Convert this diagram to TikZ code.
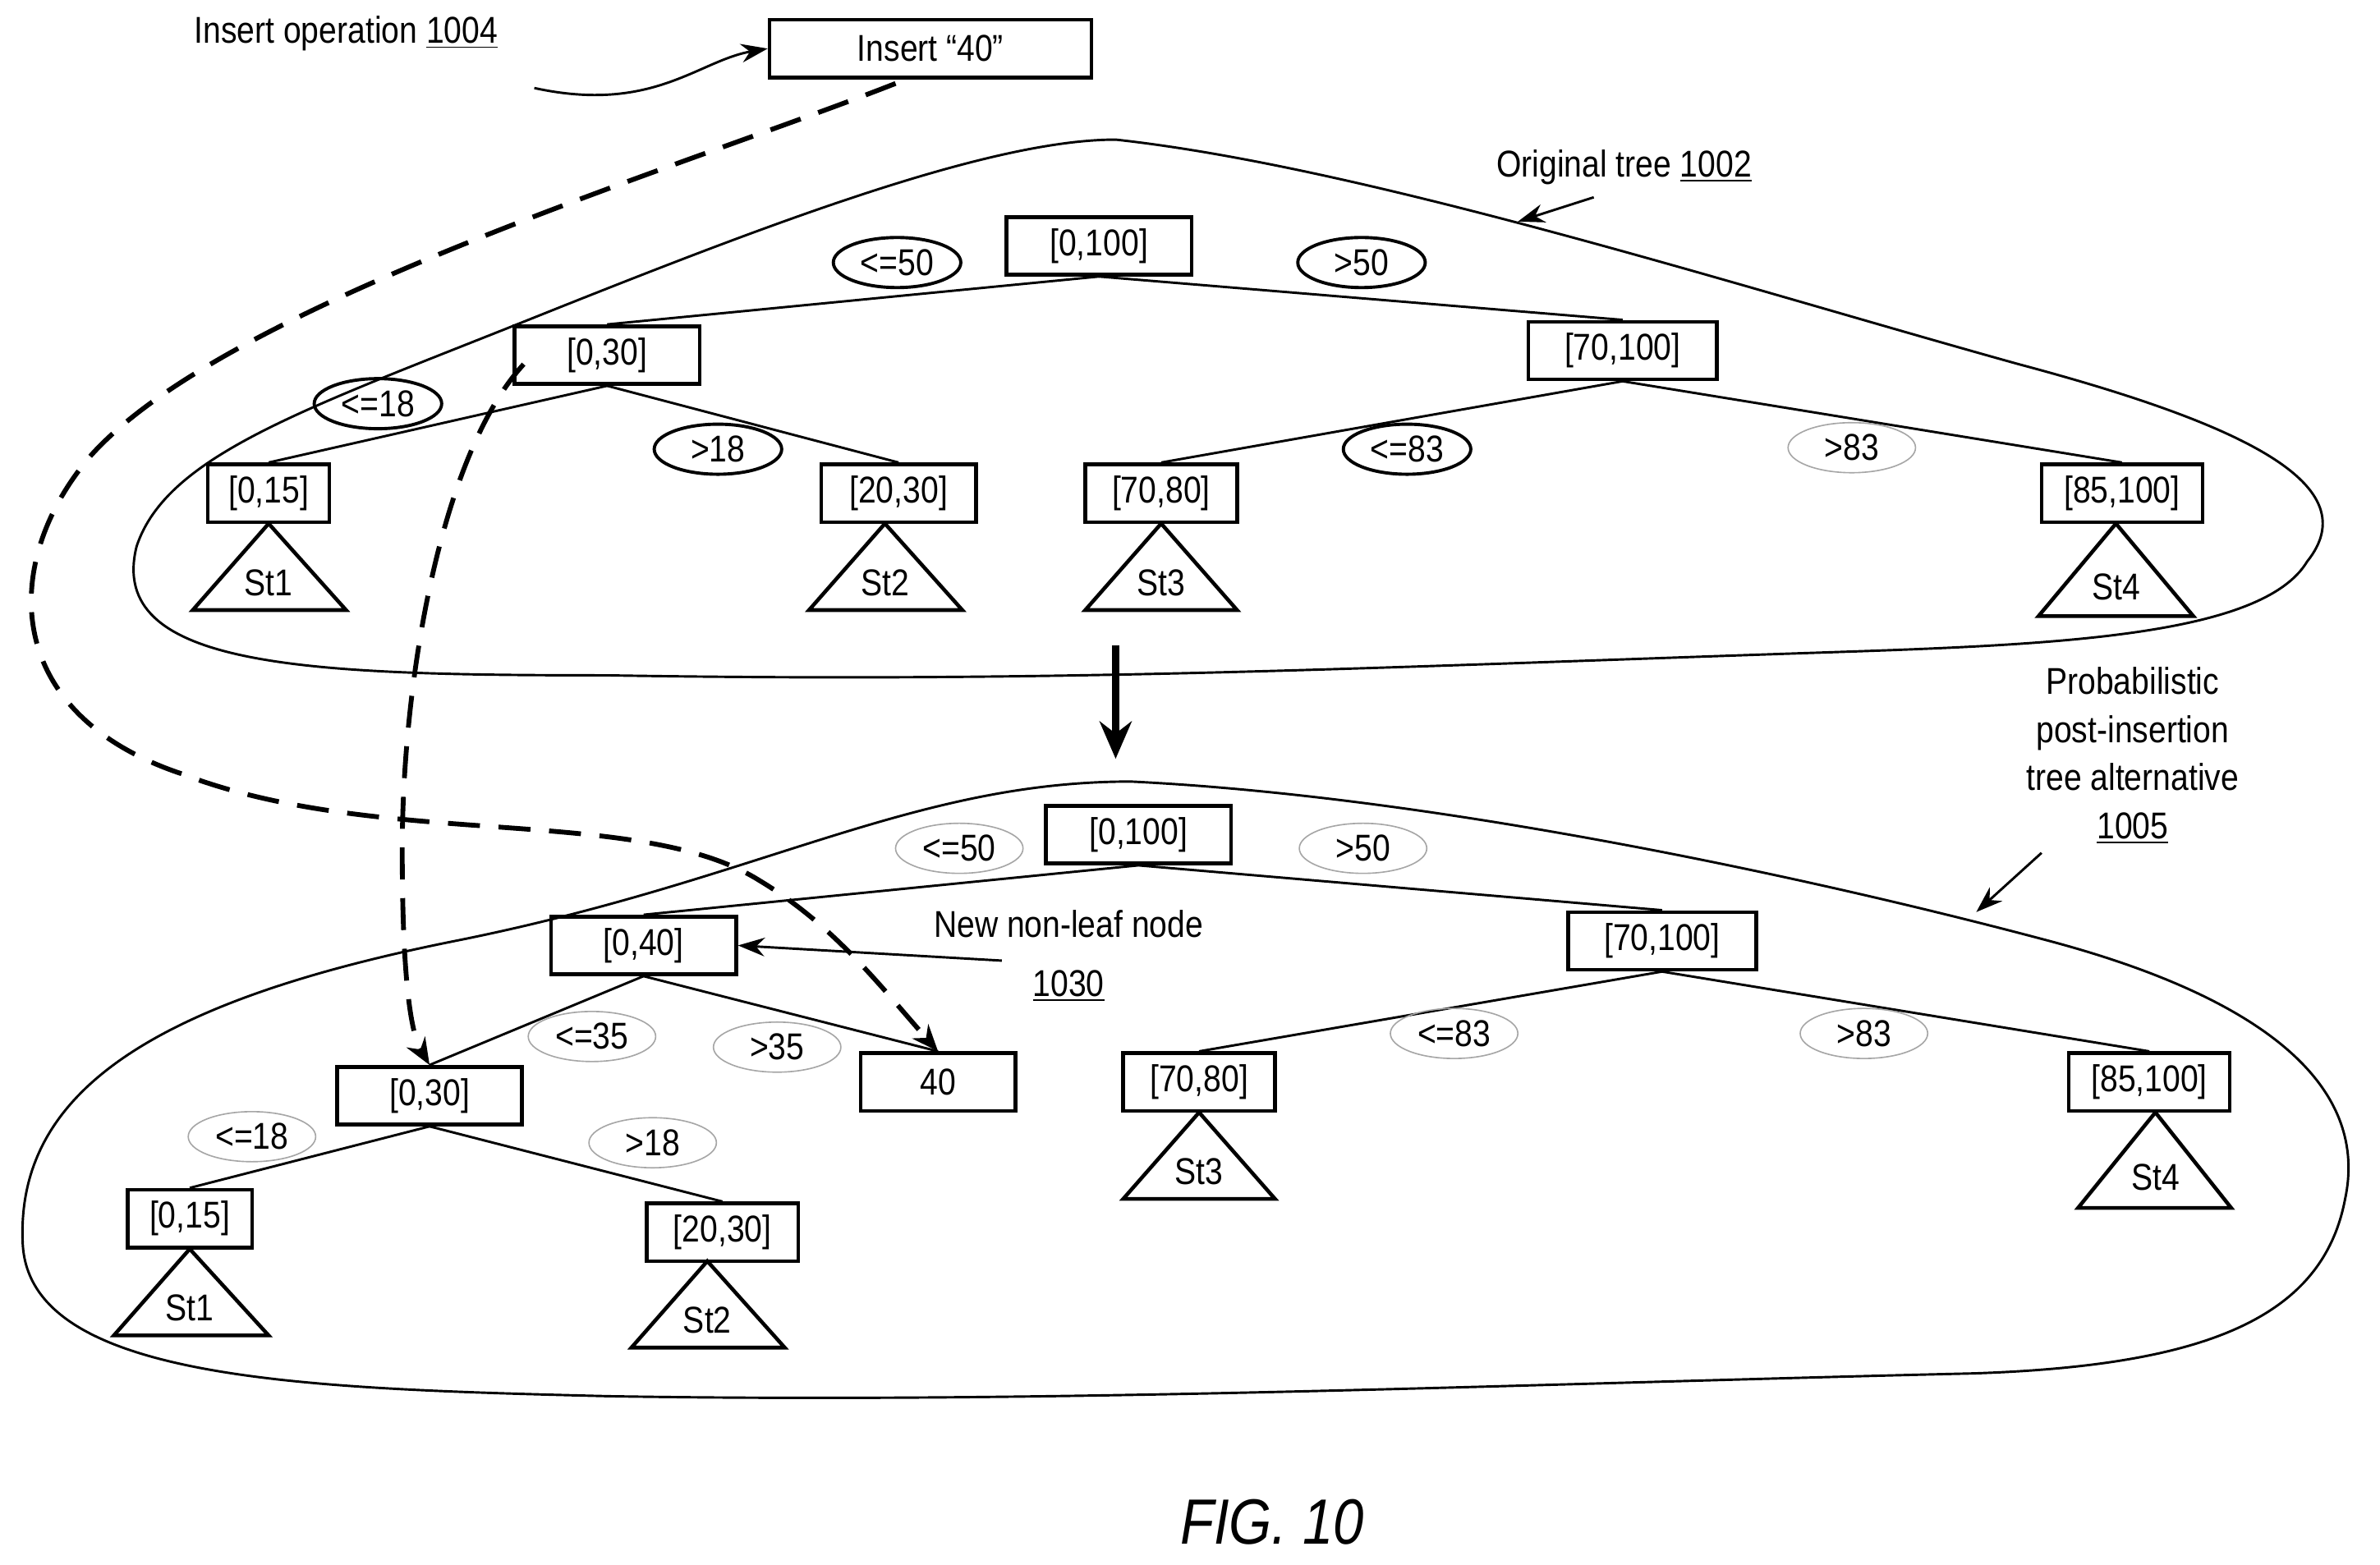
\documentclass[tikz,border=0pt]{standalone}
\usepackage{fontspec}
\setmainfont{Liberation Sans}[FakeStretch=0.86]
\usetikzlibrary{shapes.geometric,arrows.meta}
\begin{document}
\begin{tikzpicture}[x=0.02cm,y=-0.02cm,font=\fontsize{14}{16}\selectfont,
 box/.style={draw,line width=1.4pt,minimum height=0.76cm,inner sep=1pt},
 lab/.style={draw,ellipse,line width=1.2pt,minimum width=1.68cm,minimum height=0.66cm,inner sep=0pt},
 glab/.style={draw=gray!70,ellipse,line width=0.5pt,minimum width=1.68cm,minimum height=0.66cm,inner sep=0pt},
 edge/.style={line width=0.9pt},
 tri/.style={line width=1.4pt},
 dsh/.style={line width=1.8pt,dash pattern=on 12pt off 7pt,-{Stealth[length=10pt,width=8pt]}},
 arr/.style={line width=0.9pt,-{Stealth[length=10pt,width=7pt]}}]
\useasboundingbox (0,0) rectangle (1568,1031);
% top
\node (iotext) at (228,22) {Insert operation \underline{1004}};
\node[box,minimum width=4.24cm] (ins) at (613,32) {Insert ``40''};
\coordinate (ioend) at (352,58);
\draw[arr] (ioend) .. controls (430,75) and (460,40) .. (ins.west);
% top blob
\draw[line width=0.9pt] (735,92) .. controls (900,110) and (1150,190) .. (1330,240)
 .. controls (1480,280) and (1560,320) .. (1520,370) .. controls (1490,420) and (1350,425) .. (1200,430)
 .. controls (900,440) and (700,450) .. (400,445) .. controls (200,445) and (70,440) .. (90,360)
 .. controls (110,300) and (200,270) .. (350,210) .. controls (500,150) and (650,92) .. (735,92) -- cycle;
\node (ot) at (1070,110) {Original tree \underline{1002}};
\coordinate (otend) at (1050,130);
\draw[arr] (otend) -- (1000,146);
\node[box,minimum width=2.44cm] (a0) at (724,162) {[0,100]};
\node[box,minimum width=2.44cm] (a1) at (400,234) {[0,30]};
\node[box,minimum width=2.48cm] (a2) at (1069,231) {[70,100]};
\node[box,minimum width=1.6cm] (a3) at (177,325) {[0,15]};
\node[box,minimum width=2.04cm] (a4) at (592,325) {[20,30]};
\node[box,minimum width=2.0cm] (a5) at (765,325) {[70,80]};
\node[box,minimum width=2.12cm] (a6) at (1398,325) {[85,100]};
\draw[edge] (a0.south) -- (a1.north); \draw[edge] (a0.south) -- (a2.north);
\draw[edge] (a1.south) -- (a3.north); \draw[edge] (a1.south) -- (a4.north);
\draw[edge] (a2.south) -- (a5.north); \draw[edge] (a2.south) -- (a6.north);
\node[lab] (l1) at (591,173) {<=50};
\node[lab] (l2) at (897,173) {>50};
\node[lab] (l3) at (249,266) {<=18};
\node[lab] (l4) at (473,296) {>18};
\node[lab] (l5) at (927,296) {<=83};
\node[glab] (l6) at (1220,295) {>83};
\draw[tri] (177,345) -- (127,402) -- (228,402) -- cycle; \node (t1) at (177,384) {St1};
\draw[tri] (583,345) -- (533,402) -- (634,402) -- cycle; \node (t2) at (583,384) {St2};
\draw[tri] (765,345) -- (715,402) -- (815,402) -- cycle; \node (t3) at (765,384) {St3};
\draw[tri] (1394,345) -- (1343,406) -- (1445,406) -- cycle; \node (t4) at (1394,387) {St4};
\coordinate (bs) at (735,425); \coordinate (be) at (735,500);
\draw[line width=3pt,-{Stealth[length=14pt,width=12pt]}] (bs) -- (be);
\node[align=center,inner sep=0pt] (pp) at (1405,498) {Probabilistic\\[2pt]post-insertion\\[2pt]tree alternative\\[2pt]\underline{1005}};
\coordinate (ppend) at (1345,562);
\draw[arr] (ppend) -- (1302,601);
% bottom blob
\draw[line width=0.9pt] (745,515) .. controls (950,525) and (1200,580) .. (1350,620)
 .. controls (1500,660) and (1560,720) .. (1545,790) .. controls (1530,870) and (1450,900) .. (1300,905)
 .. controls (1000,912) and (700,925) .. (400,920) .. controls (200,915) and (20,910) .. (15,820)
 .. controls (10,720) and (100,660) .. (300,620) .. controls (500,580) and (600,515) .. (745,515) -- cycle;
\node[box,minimum width=2.44cm] (b0) at (750,550) {[0,100]};
\node[box,minimum width=2.44cm] (b1) at (424,623) {[0,40]};
\node[box,minimum width=2.48cm] (b2) at (1095,620) {[70,100]};
\node[box,minimum width=2.44cm] (b3) at (283,722) {[0,30]};
\node[box,minimum width=2.04cm] (b4) at (618,713) {40};
\node[box,minimum width=2.0cm] (b5) at (790,713) {[70,80]};
\node[box,minimum width=2.12cm] (b6) at (1416,713) {[85,100]};
\node[box,minimum width=1.64cm] (b7) at (125,803) {[0,15]};
\node[box,minimum width=2.0cm] (b8) at (476,812) {[20,30]};
\draw[edge] (b0.south) -- (b1.north); \draw[edge] (b0.south) -- (b2.north);
\draw[edge] (b1.south) -- (b3.north); \draw[edge] (b1.south) -- (b4.north);
\draw[edge] (b2.south) -- (b5.north); \draw[edge] (b2.south) -- (b6.north);
\draw[edge] (b3.south) -- (b7.north); \draw[edge] (b3.south) -- (b8.north);
\node[glab] (m1) at (632,559) {<=50};
\node[glab] (m2) at (898,559) {>50};
\node[glab] (m3) at (390,683) {<=35};
\node[glab] (m4) at (512,690) {>35};
\node[glab] (m5) at (958,681) {<=83};
\node[glab] (m6) at (1228,681) {>83};
\node[glab] (m7) at (166,749) {<=18};
\node[glab] (m8) at (430,753) {>18};
\draw[tri] (790,733) -- (740,790) -- (840,790) -- cycle; \node (u3) at (790,772) {St3};
\draw[tri] (1420,733) -- (1369,796) -- (1470,796) -- cycle; \node (u4) at (1420,776) {St4};
\draw[tri] (125,823) -- (75,880) -- (177,880) -- cycle; \node (u1) at (125,862) {St1};
\draw[tri] (466,831) -- (416,888) -- (517,888) -- cycle; \node (u2) at (466,870) {St2};
\node[align=center,inner sep=0pt] (nn) at (704,630) {New non-leaf node\\[6pt]\underline{1030}};
\coordinate (nnend) at (660,633);
\draw[arr] (nnend) -- (b1.east);
% dashed
\coordinate (d1) at (590,55);
\draw[dsh] (d1) .. controls (450,110) and (150,200) .. (60,300)
 .. controls (0,370) and (0,470) .. (120,510) .. controls (250,560) and (420,530) .. (500,580)
 .. controls (550,610) and (580,650) .. (b4.north);
\coordinate (d2) at (345,240);
\draw[dsh] (d2) .. controls (290,300) and (265,450) .. (265,560) .. controls (265,640) and (270,680) .. (b3.north);
\node[font=\itshape\fontsize{24}{28}\selectfont] (fig) at (838,1003) {FIG. 10};
\end{tikzpicture}
\end{document}
